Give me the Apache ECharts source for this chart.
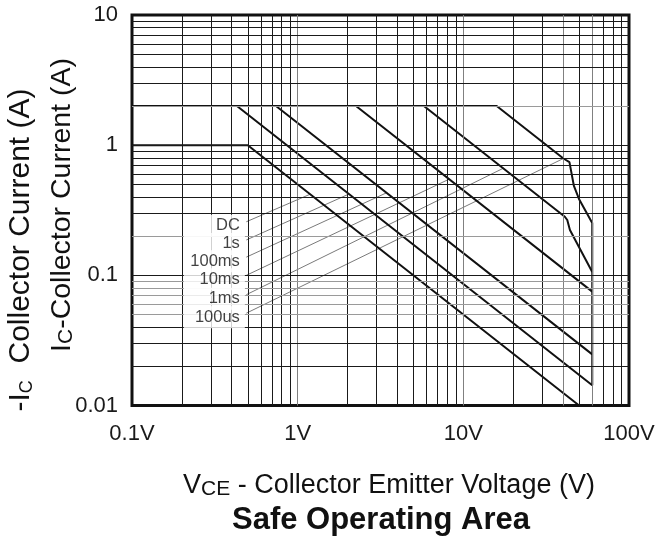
<!DOCTYPE html>
<html>
<head>
<meta charset="utf-8">
<script src="https://cdn.jsdelivr.net/npm/echarts@6/dist/echarts.min.js"></script>
<style>
html,body{margin:0;padding:0;background:#fff;}
#chart{width:657px;height:542px;}
</style>
</head>
<body>
<div id="chart"></div>
<script>
// ---- data ----
const xTickLabels = ['0.1V', '1V', '10V', '100V'];
const yTickLabels = ['0.01', '0.1', '1', '10'];
const curveNames = ['DC', '1s', '100ms', '10ms', '1ms', '100us'];

// SOA boundary curves: [VCE (V), IC (A)]
const curveDC    = [[0.1, 1], [0.5, 1], [50, 0.01]];
const curve1s    = [[0.1, 2], [0.43, 2], [60, 0.0143]];
const curve100ms = [[0.1, 2], [0.74, 2], [60, 0.0247]];
const curve10ms  = [[0.1, 2], [2.25, 2], [60, 0.075]];
const curve1ms   = [[0.1, 2], [5.78, 2], [41, 0.282], [42.4, 0.266], [44, 0.223], [60, 0.106]];
const curve100us = [[0.1, 2], [15.9, 2], [40.2, 0.79], [43.7, 0.74], [46.5, 0.486], [49.9, 0.386], [60, 0.252], [60, 0.0143]];

// leader lines from labels to curves
const leaderStartV = 0.49;
const leaderStartI = [0.258, 0.187, 0.138, 0.1, 0.071, 0.0512];
const leaderEnd = [[1.19, 0.42], [2.03, 0.42], [3.43, 0.43], [8.21, 0.548], [17.4, 0.664], [40.2, 0.79]];

// grid values
const xGrayLines = [1, 10, 40, 60];
const yGrayLines = [0.05, 0.06, 0.07, 0.08, 0.09, 0.2, 2];

// ---- build ----
const curves = [curveDC, curve1s, curve100ms, curve10ms, curve1ms, curve100us];
const decadesX = [0.1, 1, 10];
const decadesY = [0.01, 0.1, 1];
const xGrid = [], yGrid = [];
decadesX.forEach(d => { for (let m = 1; m <= 9; m++) if (!(d === 0.1 && m === 1)) xGrid.push(+(m * d).toPrecision(3)); });
decadesY.forEach(d => { for (let m = 1; m <= 9; m++) if (!(d === 0.01 && m === 1)) yGrid.push(+(m * d).toPrecision(3)); });

const gridMarks = [];
xGrid.forEach(v => gridMarks.push({ xAxis: v, lineStyle: { color: xGrayLines.includes(v) ? '#808080' : '#1a1a1a' } }));
yGrid.forEach(v => gridMarks.push({ yAxis: v, lineStyle: { color: yGrayLines.includes(v) ? '#9a9a9a' : '#1a1a1a' } }));

const series = [];
series.push({
  type: 'line', data: [], z: 1, silent: true,
  markLine: { silent: true, symbol: ['none', 'none'], label: { show: false },
    lineStyle: { width: 1, type: 'solid' }, animation: false, data: gridMarks }
});
curveNames.forEach((n, i) => {
  series.push({
    type: 'line', name: n + ' leader', z: 2, symbol: 'none', silent: true,
    lineStyle: { color: '#7a7a7a', width: 1 },
    data: [[leaderStartV, leaderStartI[i]], leaderEnd[i]]
  });
});
curves.forEach((c, i) => {
  series.push({
    type: 'line', name: curveNames[i], z: 4, symbol: 'none', silent: true,
    lineStyle: { color: '#111', width: 2 }, data: c
  });
});
series.push({
  type: 'scatter', z: 5, symbolSize: 1, silent: true,
  itemStyle: { color: 'rgba(0,0,0,0)' },
  data: leaderStartI.map((v, i) => ({ value: [leaderStartV, v], name: curveNames[i] })),
  label: { show: true, position: 'left', distance: 1, offset: [0, 4],
    formatter: p => p.name, color: '#111',
    width: 56, align: 'right', lineHeight: 18, padding: [2, 5, 2, 0],
    backgroundColor: '#fff',
    fontFamily: "'Liberation Sans', Arial, sans-serif", fontSize: 16.5 }
});

const tickFont = "'Liberation Sans', Arial, sans-serif";
const titleFont = "'Liberation Sans', Arial, sans-serif";

const option = {
  animation: false,
  backgroundColor: '#fff',
  grid: { left: 132, right: 28, top: 15, bottom: 136.5, show: true, borderColor: '#111', borderWidth: 3,
    containLabel: false, outerBoundsMode: 'none' },
  xAxis: {
    type: 'log', logBase: 10, min: 0.1, max: 100,
    axisLine: { show: false }, axisTick: { show: false }, splitLine: { show: false },
    axisLabel: { margin: 17, fontSize: 22, fontFamily: tickFont, color: '#1a1a1a',
      formatter: v => xTickLabels[Math.round(Math.log10(v)) + 1] }
  },
  yAxis: {
    type: 'log', logBase: 10, min: 0.01, max: 10,
    axisLine: { show: false }, axisTick: { show: false }, splitLine: { show: false },
    axisLabel: { margin: 14, fontSize: 22, fontFamily: tickFont, color: '#1a1a1a',
      formatter: v => yTickLabels[Math.round(Math.log10(v)) + 2] }
  },
  graphic: [
    { type: 'text', x: 20, y: 250, rotation: Math.PI / 2,
      style: { text: '{a|-I}{s|C}{a|  Collector Current (A)}', align: 'center', verticalAlign: 'middle',
        rich: { a: { fontSize: 30, fontFamily: titleFont, fill: '#111', verticalAlign: 'bottom', lineHeight: 32 },
                s: { fontSize: 18, fontFamily: titleFont, fill: '#111', verticalAlign: 'bottom', lineHeight: 14 } } } },
    { type: 'text', x: 62, y: 205, rotation: Math.PI / 2,
      style: { text: '{a|I}{s|C}{a|-Collector Current (A)}', align: 'center', verticalAlign: 'middle',
        rich: { a: { fontSize: 28.5, fontFamily: titleFont, fill: '#111', verticalAlign: 'bottom', lineHeight: 29 },
                s: { fontSize: 21, fontFamily: titleFont, fill: '#111', verticalAlign: 'bottom', lineHeight: 23 } } } },
    { type: 'text', x: 389, y: 485,
      style: { text: '{a|V}{s|CE}{a| - Collector Emitter Voltage (V)}', align: 'center', verticalAlign: 'middle',
        rich: { a: { fontSize: 27, fontFamily: titleFont, fill: '#111', verticalAlign: 'bottom', lineHeight: 29 },
                s: { fontSize: 21, fontFamily: titleFont, fill: '#111', verticalAlign: 'bottom', lineHeight: 24 } } } },
    { type: 'text', x: 381, y: 520,
      style: { text: 'Safe Operating Area', align: 'center', verticalAlign: 'middle',
        font: "bold 31px 'Liberation Sans', Arial, sans-serif", fill: '#111' } }
  ],
  series: series
};

const chart = echarts.init(document.getElementById('chart'), null, { renderer: 'canvas' });
chart.setOption(option);
</script>
</body>
</html>
